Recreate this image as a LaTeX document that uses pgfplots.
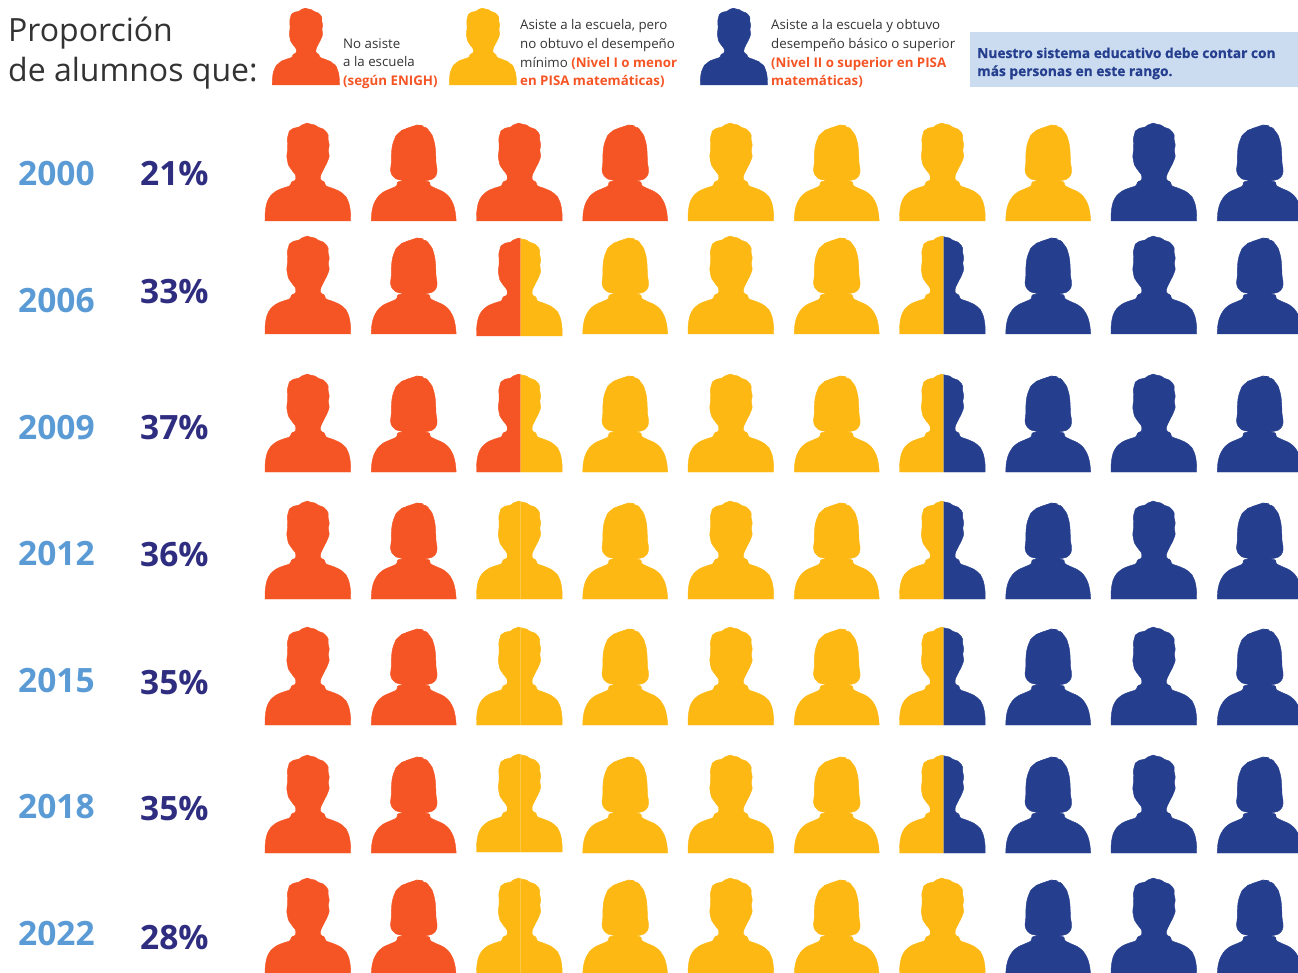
\documentclass[border=0pt]{standalone}
\usepackage{pgfplots}
\pgfplotsset{compat=1.18}
\usepackage{pgfplotstable}
\usepackage{fontspec}
\setmainfont{Open Sans}
\newfontfamily\xb{Open Sans}[UprightFont=* Bold,FakeBold=0.4]
\definecolor{cO}{HTML}{F55524}
\definecolor{cY}{HTML}{FDB813}
\definecolor{cB}{HTML}{253F8E}
\definecolor{cYear}{HTML}{5B9BD5}
\definecolor{cPct}{HTML}{2E2D80}
\definecolor{cBox}{HTML}{CBDCF1}
\definecolor{cTxt}{HTML}{333333}
\newcommand{\malepath}{%
 (-43pt,0pt) [rounded corners=5pt] -- (-43pt,9.3pt) -- (-40.7pt,21pt) -- (-34.7pt,28.7pt) -- (-26.3pt,32.7pt) [rounded corners=1pt] -- (-18pt,35pt)
 -- (-16.3pt,39.3pt) -- (-12.3pt,40.7pt) -- (-12.3pt,46pt) -- (-16.3pt,51pt) -- (-19.7pt,56pt) -- (-21.3pt,64.3pt) -- (-20.3pt,72.7pt) -- (-20.7pt,82.7pt)
 [rounded corners=.5pt] -- (-19.3pt,87.7pt) -- (-18.7pt,90pt) -- (-14.7pt,92.7pt) -- (-8.7pt,94pt) -- (-6.3pt,96pt) -- (-0.7pt,98pt) -- (2pt,97pt) -- (7pt,96pt) -- (10.3pt,93.7pt) -- (15.3pt,92pt) -- (18.7pt,88.7pt) -- (20.3pt,85.7pt) -- (20pt,82pt) -- (21.3pt,76pt) -- (20.3pt,71pt)
 [rounded corners=1pt] -- (21.3pt,64.3pt) -- (18.7pt,57.7pt) -- (16pt,52.7pt) -- (12.7pt,46pt) -- (12.7pt,40.7pt) -- (16.3pt,39.3pt) -- (17.7pt,35pt)
 [rounded corners=5pt] -- (27pt,32pt) -- (35.3pt,27.7pt) -- (40.3pt,21pt) -- (42.7pt,9.3pt) [sharp corners] -- (42.7pt,0pt) -- cycle}
\newcommand{\femalepath}{%
 (-42.3pt,0pt) [rounded corners=5pt] -- (-41.7pt,11pt) -- (-38.3pt,21pt) -- (-31.7pt,28.7pt) -- (-21.7pt,32.7pt) [rounded corners=1pt] -- (-16.7pt,35pt)
 -- (-16pt,39.3pt) -- (-9.3pt,40.3pt) -- (-16.7pt,41.7pt) [rounded corners=3pt] -- (-20.7pt,44.3pt) -- (-23.3pt,49.3pt) -- (-22pt,59.3pt) [rounded corners=6pt] -- (-22.3pt,69.3pt) -- (-20pt,81pt) -- (-15pt,89.3pt) -- (-6.7pt,92.7pt) -- (-1.7pt,94.3pt) -- (3.3pt,96pt) -- (10pt,95.3pt) -- (16.7pt,90pt) -- (20.7pt,81pt) -- (22.3pt,69.3pt) [rounded corners=3pt] -- (22.3pt,59.3pt) -- (24pt,49.3pt) -- (21.7pt,43.3pt) -- (16.7pt,41pt) [rounded corners=1pt] -- (10.7pt,40pt)
 -- (16pt,39.3pt) -- (16.7pt,35.3pt) [rounded corners=5pt] -- (21.7pt,32.7pt) -- (31.7pt,28.7pt) -- (38.3pt,21pt) -- (41.7pt,11pt) [sharp corners] -- (42.7pt,0pt) -- cycle}
\pgfdeclareplotmark{male}{\fill \malepath;}
\pgfdeclareplotmark{female}{\fill \femalepath;}
\pgfdeclareplotmark{maleL}{\begin{scope}\pgfpathrectanglecorners{\pgfpoint{-50pt}{-1pt}}{\pgfpoint{1pt}{110pt}}\pgfusepath{clip}\fill \malepath;\end{scope}}
\pgfdeclareplotmark{maleR}{\begin{scope}\pgfpathrectanglecorners{\pgfpoint{1pt}{-1pt}}{\pgfpoint{50pt}{110pt}}\pgfusepath{clip}\fill \malepath;\end{scope}}
\pgfplotsset{icon/.style 2 args={only marks,mark=#1,color=#2,mark options={solid,draw=none,fill=#2}}}
\newcommand{\icons}[3]{\addplot[icon={#1}{#2}] table[row sep=\\] {x y\\ #3};}
\newcommand{\txt}[3]{\node[anchor=base west,inner sep=0pt,text=cTxt,font=\fontsize{13.3}{13.3}\selectfont] at (axis cs:#1,#2) {#3};}
\begin{document}
\begin{tikzpicture}
\begin{axis}[width=1298pt,height=980pt,scale only axis,y dir=reverse,xmin=0,xmax=1298,ymin=0,ymax=980,hide axis,clip=true]
\fill[cBox] (axis cs:970,32) rectangle (axis cs:1298,87);
% whole icons, x = centre of the figure, y = its base
\icons{male}{cO}{308 221\\ 308 334\\ 308 472\\ 308 599\\ 308 725\\ 308 853\\ 308 976\\ 519.5 221\\}
\icons{female}{cO}{413.5 221\\ 413.5 334\\ 413.5 472\\ 413.5 599\\ 413.5 725\\ 413.5 853\\ 413.5 976\\ 625 221\\}
\icons{male}{cY}{731 221\\ 731 334\\ 731 472\\ 731 599\\ 731 725\\ 731 853\\ 731 976\\ 942.5 221\\ 942.5 976\\}
\icons{female}{cY}{625 334\\ 625 472\\ 625 599\\ 625 725\\ 625 853\\ 625 976\\ 836.5 221\\ 836.5 334\\ 836.5 472\\ 836.5 599\\ 836.5 725\\ 836.5 853\\ 836.5 976\\ 1048 221\\}
\icons{male}{cB}{1154 221\\ 1154 334\\ 1154 472\\ 1154 599\\ 1154 725\\ 1154 853\\ 1154 976\\}
\icons{female}{cB}{1048 334\\ 1048 472\\ 1048 599\\ 1048 725\\ 1048 853\\ 1048 976\\ 1259.5 221\\ 1259.5 334\\ 1259.5 472\\ 1259.5 599\\ 1259.5 725\\ 1259.5 853\\ 1259.5 976\\}
% divided icons
\icons{maleL}{cO}{519.5 336\\ 519.5 472\\}
\icons{maleR}{cY}{519.5 336\\ 519.5 472\\ 519.5 599\\ 519.5 725\\ 519.5 852\\ 519.5 976\\}
\icons{maleL}{cY}{519.5 599\\ 519.5 725\\ 519.5 852\\ 519.5 976\\ 942.5 334\\ 942.5 472\\ 942.5 599\\ 942.5 725\\ 942.5 853\\}
\icons{maleR}{cB}{942.5 334\\ 942.5 472\\ 942.5 599\\ 942.5 725\\ 942.5 853\\}
% legend figures
\addplot[icon={male}{cO},mark options={scale=.785}] table[row sep=\\] {x y\\ 306 85\\};
\addplot[icon={male}{cY},mark options={scale=.785}] table[row sep=\\] {x y\\ 483 85\\};
\addplot[icon={male}{cB},mark options={scale=.785}] table[row sep=\\] {x y\\ 734 85\\};
% title
\node[anchor=base west,inner sep=0pt,text=cTxt,font=\fontsize{32}{32}\selectfont] at (axis cs:8,42) {Proporción};
\node[anchor=base west,inner sep=0pt,text=cTxt,font=\fontsize{32}{32}\selectfont] at (axis cs:8,82) {de alumnos que:};
% legend texts
\txt{343}{48.7}{No asiste}
\txt{343}{66.7}{a la escuela}
\txt{343}{85.7}{\textbf{\color{cO}(según ENIGH)}}
\txt{520}{29.7}{Asiste a la escuela, pero}
\txt{520}{48.7}{no obtuvo el desempeño}
\txt{520}{67.7}{mínimo \textbf{\color{cO}(Nivel I o menor}}
\txt{520}{85.7}{\textbf{\color{cO}en PISA matemáticas)}}
\txt{771}{29.7}{Asiste a la escuela y obtuvo}
\txt{771}{48.7}{desempeño básico o superior}
\txt{771}{67.7}{\textbf{\color{cO}(Nivel II o superior en PISA}}
\txt{771}{85.7}{\textbf{\color{cO}matemáticas)}}
\node[anchor=base west,inner sep=0pt,text=cB,font=\fontsize{13.75}{13.75}\selectfont\xb] at (axis cs:977,58) {Nuestro sistema educativo debe contar con};
\node[anchor=base west,inner sep=0pt,text=cB,font=\fontsize{13.75}{13.75}\selectfont\xb] at (axis cs:977,76) {más personas en este rango.};
% years and percentages
\node[anchor=base west,inner sep=0pt,text=cYear,font=\fontsize{33.5}{33.5}\selectfont\bfseries] at (axis cs:18,186) {2000};
\node[anchor=base west,inner sep=0pt,text=cYear,font=\fontsize{33.5}{33.5}\selectfont\bfseries] at (axis cs:18,313) {2006};
\node[anchor=base west,inner sep=0pt,text=cYear,font=\fontsize{33.5}{33.5}\selectfont\bfseries] at (axis cs:18,439) {2009};
\node[anchor=base west,inner sep=0pt,text=cYear,font=\fontsize{33.5}{33.5}\selectfont\bfseries] at (axis cs:18,565) {2012};
\node[anchor=base west,inner sep=0pt,text=cYear,font=\fontsize{33.5}{33.5}\selectfont\bfseries] at (axis cs:18,692) {2015};
\node[anchor=base west,inner sep=0pt,text=cYear,font=\fontsize{33.5}{33.5}\selectfont\bfseries] at (axis cs:18,818) {2018};
\node[anchor=base west,inner sep=0pt,text=cYear,font=\fontsize{33.5}{33.5}\selectfont\bfseries] at (axis cs:18,945) {2022};
\node[anchor=base west,inner sep=0pt,text=cPct,font=\fontsize{33.5}{33.5}\selectfont\bfseries] at (axis cs:140,186) {21\%};
\node[anchor=base west,inner sep=0pt,text=cPct,font=\fontsize{33.5}{33.5}\selectfont\bfseries] at (axis cs:140,304) {33\%};
\node[anchor=base west,inner sep=0pt,text=cPct,font=\fontsize{33.5}{33.5}\selectfont\bfseries] at (axis cs:140,439) {37\%};
\node[anchor=base west,inner sep=0pt,text=cPct,font=\fontsize{33.5}{33.5}\selectfont\bfseries] at (axis cs:140,566) {36\%};
\node[anchor=base west,inner sep=0pt,text=cPct,font=\fontsize{33.5}{33.5}\selectfont\bfseries] at (axis cs:140,694) {35\%};
\node[anchor=base west,inner sep=0pt,text=cPct,font=\fontsize{33.5}{33.5}\selectfont\bfseries] at (axis cs:140,820) {35\%};
\node[anchor=base west,inner sep=0pt,text=cPct,font=\fontsize{33.5}{33.5}\selectfont\bfseries] at (axis cs:140,949) {28\%};
\end{axis}
\pgfresetboundingbox
\path[use as bounding box] ([yshift=-973pt]current axis.north west) rectangle (current axis.north east);
\end{tikzpicture}
\end{document}
